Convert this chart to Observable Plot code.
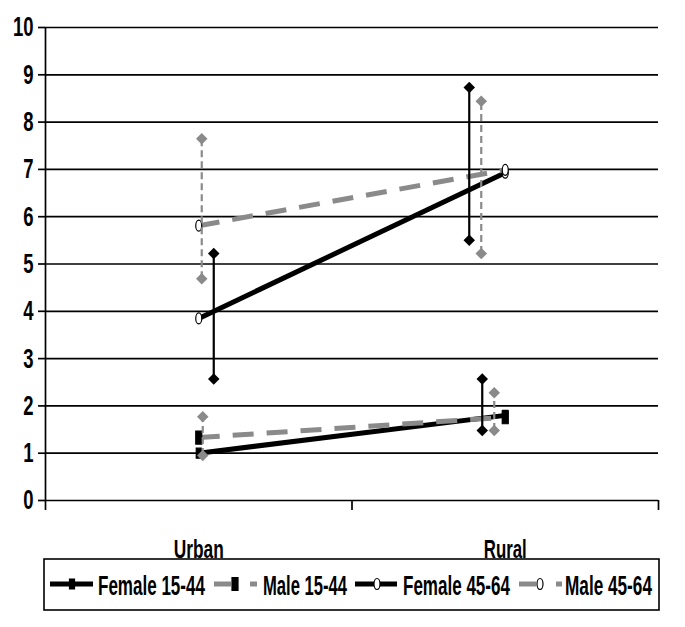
<!DOCTYPE html>
<html><head><meta charset="utf-8">
<script src="https://cdn.jsdelivr.net/npm/d3@7"></script>
<script src="https://cdn.jsdelivr.net/npm/@observablehq/plot@0.6"></script>
<style>
body{margin:0;background:#fff;}
#chart svg{display:block;}
</style></head><body><div id="chart"></div>
<script>
// ---- data ----
const categories = ["Urban", "Rural"];
const seriesNames = ["Female 15-44", "Male 15-44", "Female 45-64", "Male 45-64"];
const female1544 = [1.0, 1.8];
const male1544 = [1.33, 1.76];
const female4564 = [3.85, 6.93];
const male4564 = [5.81, 6.99];
const female1544Low = [null, 1.48];
const female1544High = [null, 2.57];
const male1544Low = [0.95, 1.48];
const male1544High = [1.77, 2.28];
const female4564Low = [2.57, 5.5];
const female4564High = [5.22, 8.73];
const male4564Low = [4.69, 5.22];
const male4564High = [7.65, 8.44];
const yTicks = [0, 1, 2, 3, 4, 5, 6, 7, 8, 9, 10];

// ---- table ----
const valueSets = [
  [female1544, female1544Low, female1544High],
  [male1544, male1544Low, male1544High],
  [female4564, female4564Low, female4564High],
  [male4564, male4564Low, male4564High]
];
const rows = [];
seriesNames.forEach((s, si) => {
  categories.forEach((c, ci) => {
    rows.push({series: s, category: c, pos: ci + 0.5, value: valueSets[si][0][ci],
               low: valueSets[si][1][ci], high: valueSets[si][2][ci]});
  });
});

// ---- styles ----
const FONT = "'Liberation Sans','Arial',sans-serif";
const GRAY = "#8a8a8a";
const ellipseSym = {draw(ctx) { const rx = 3, ry = 5.5, k = 0.5523;
  ctx.moveTo(rx, 0); ctx.bezierCurveTo(rx, ry*k, rx*k, ry, 0, ry);
  ctx.bezierCurveTo(-rx*k, ry, -rx, ry*k, -rx, 0);
  ctx.bezierCurveTo(-rx, -ry*k, -rx*k, -ry, 0, -ry);
  ctx.bezierCurveTo(rx*k, -ry, rx, -ry*k, rx, 0); ctx.closePath(); }};
const rectSym = (w, h) => ({draw(ctx) { ctx.rect(-w/2, -h/2, w, h); }});
const styles = {
  "Female 15-44": {stroke: "#000", dash: null, marker: rectSym(5, 10), mFill: "#000", errDash: null, errOffset: [15, -23]},
  "Male 15-44":   {stroke: GRAY, dash: "21,13", marker: rectSym(6, 13), mFill: "#000", errDash: "7,4", errOffset: [4, -11]},
  "Female 45-64": {stroke: "#000", dash: null, marker: ellipseSym, mFill: "#fff", errDash: null, errOffset: [15, -36]},
  "Male 45-64":   {stroke: GRAY, dash: "21,13", marker: ellipseSym, mFill: "#fff", errDash: "7,4", errOffset: [3, -24]}
};

const marks = [
  Plot.ruleY(yTicks, {stroke: "#000", strokeWidth: 1.7}),
  Plot.ruleX([0], {stroke: "#000", strokeWidth: 1.7}),
  Plot.axisY(yTicks, {tickSize: 7, tickPadding: 5, fontWeight: "bold", strokeWidth: 1.7,
    stroke: "#000", color: "#000", label: null}),
  Plot.axisX([0, 1, 2], {tickSize: 10, tickFormat: () => "", strokeWidth: 1.7, stroke: "#000", label: null}),
  Plot.axisX([0.5, 1.5], {tickSize: 0, tickPadding: 0, fontWeight: "bold", color: "#000",
    label: null, tickFormat: d => categories[Math.floor(d)]})
];
// lines
seriesNames.forEach(s => {
  const st = styles[s];
  marks.push(Plot.line(rows.filter(r => r.series === s), {x: "pos", y: "value", stroke: st.stroke,
    strokeWidth: 5, strokeDasharray: st.dash, strokeLinecap: "butt"}));
});
// line markers
seriesNames.forEach(s => {
  const st = styles[s];
  marks.push(Plot.dot(rows.filter(r => r.series === s), {x: "pos", y: "value", symbol: st.marker,
    fill: st.mFill, stroke: "#000", strokeWidth: 1.2}));
});
// error bars
seriesNames.forEach(s => {
  const st = styles[s];
  categories.forEach((c, ci) => {
    const d = rows.filter(r => r.series === s && r.category === c && r.low != null);
    if (!d.length) return;
    const col = st.stroke === GRAY ? GRAY : "#000";
    const dx = st.errOffset[ci];
    marks.push(Plot.ruleX(d, {x: "pos", y1: "low", y2: "high", dx, stroke: col, strokeWidth: 2.2, strokeDasharray: st.errDash}));
    marks.push(Plot.dot(d, {x: "pos", y: "low", dx, symbol: "diamond2", r: 5.2, fill: col, stroke: "none"}));
    marks.push(Plot.dot(d, {x: "pos", y: "high", dx, symbol: "diamond2", r: 5.2, fill: col, stroke: "none"}));
  });
});

const chart = Plot.plot({
  width: 685, height: 557,
  marginLeft: 45, marginRight: 27, marginTop: 27, marginBottom: 57,
  style: {fontFamily: FONT, background: "#fff", color: "#000", overflow: "visible"},
  x: {type: "linear", domain: [0, categories.length], axis: null},
  y: {domain: [0, 10], axis: null},
  marks
});
document.getElementById("chart").appendChild(chart);
// explicit text sizing + condensed glyphs (narrow face look)
d3.select(chart).selectAll("text").each(function() {
  const t = this.textContent;
  const isCat = categories.includes(t);
  this.style.fontSize = isCat ? "25px" : "28px";
  this.style.fontWeight = "bold";
  if (isCat) {
    this.setAttribute("y", 57);
    this.setAttribute("dy", 0);
    this.setAttribute("textLength", t === "Urban" ? 50 : 43);
  } else {
    this.setAttribute("textLength", this.getComputedTextLength() * 0.66);
  }
  this.setAttribute("lengthAdjust", "spacingAndGlyphs");
});

// ---- legend ----
const leg = d3.select("#chart").append("svg").attr("width", 685).attr("height", 70);
leg.append("rect").attr("x", 44).attr("y", 2).attr("width", 615).attr("height", 51)
  .attr("fill", "#fff").attr("stroke", "#000").attr("stroke-width", 1.6);
const legendItems = [
  {segs: [[50, 93]], m: 72, tx: 98, tl: 107},
  {segs: [[214, 231], [250, 257]], m: 235, tx: 263, tl: 84},
  {segs: [[355, 397]], m: 377, tx: 403, tl: 107},
  {segs: [[519, 536], [556, 562]], m: 540, tx: 565, tl: 87}
];
const cy = 27;
seriesNames.forEach((s, i) => {
  const st = styles[s], it = legendItems[i];
  it.segs.forEach(([a, b]) => leg.append("line").attr("x1", a).attr("x2", b).attr("y1", cy).attr("y2", cy)
    .attr("stroke", st.stroke).attr("stroke-width", 5));
  const p = d3.path(); st.marker.draw(p);
  leg.append("path").attr("d", p.toString()).attr("transform", `translate(${it.m},${cy})`)
    .attr("fill", st.mFill).attr("stroke", "#000").attr("stroke-width", 1.2);
  const txt = leg.append("text").attr("x", 0).attr("y", 0).text(s)
    .style("font-family", FONT).style("font-size", "27px").style("font-weight", "bold");
  const natural = txt.node().getComputedTextLength() || it.tl;
  txt.attr("transform", `translate(${it.tx},38) scale(${it.tl / natural},1)`);
});
</script></body></html>
